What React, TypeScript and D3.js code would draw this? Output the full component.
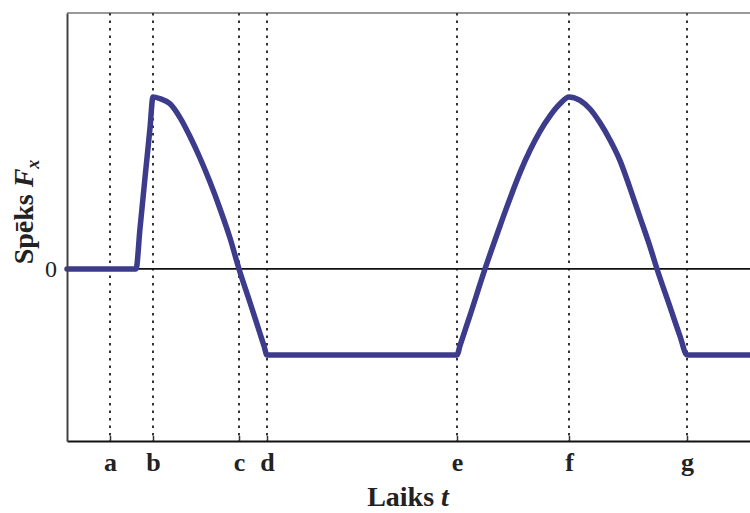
import React, { useEffect, useRef } from 'react';
import * as d3 from 'd3';

// Marker times on the time axis and their labels
const markerLabels = ['a', 'b', 'c', 'd', 'e', 'f', 'g'];
const markerTimes = [4.3, 8.6, 17.2, 20.0, 39.0, 50.2, 62.0];

// Force curve samples (time, force)
const forceTime = [0, 6.9, 7.3, 7.8, 8.3, 8.6, 9.3, 10.3, 11.3, 12.3, 13.3, 14.3, 15.3, 16.3, 17.2, 18.3, 19.3, 19.7, 20.0,
  39.0, 39.3, 40.3, 41.8, 43.3, 44.3, 45.3, 46.3, 47.3, 48.3, 49.3, 50.2, 51.3, 52.3, 53.3, 54.3, 55.3, 56.3, 57.3, 58.3, 59.0, 60.3, 61.3, 62.0, 68.3];
const forceValue = [0, 0, 0.235, 0.53, 0.82, 1.0, 0.99, 0.96, 0.88, 0.77, 0.645, 0.505, 0.35, 0.18, 0, -0.195, -0.375, -0.447, -0.5,
  -0.5, -0.446, -0.27, 0, 0.25, 0.41, 0.56, 0.69, 0.80, 0.89, 0.96, 1.0, 0.98, 0.93, 0.85, 0.75, 0.63, 0.47, 0.30, 0.13, 0, -0.22, -0.39, -0.5, -0.5];

const yTicks = [0];

const App = () => {
  const svgRef = useRef<SVGSVGElement | null>(null);

  useEffect(() => {
    const width = 750;
    const height = 513;
    const margin = { top: 13, right: 0, bottom: 72, left: 67 };
    const font = '"Liberation Serif", "Times New Roman", serif';

    const svg = d3.select(svgRef.current)
      .attr('width', width)
      .attr('height', height)
      .style('background', '#fff');

    svg.selectAll('*').remove();

    const x = d3.scaleLinear()
      .domain([0, 68.3])
      .range([margin.left, width - margin.right]);

    const y = d3.scaleLinear()
      .domain([-1, 1.488])
      .range([height - margin.bottom, margin.top]);

    // top frame line
    svg.append('line')
      .attr('x1', margin.left).attr('x2', width)
      .attr('y1', margin.top).attr('y2', margin.top)
      .attr('stroke', '#777').attr('stroke-width', 1.5);

    // dotted marker lines
    svg.append('g')
      .selectAll('line')
      .data(markerTimes)
      .join('line')
      .attr('x1', d => x(d)).attr('x2', d => x(d))
      .attr('y1', y(1.488)).attr('y2', y(-1))
      .attr('stroke', '#333')
      .attr('stroke-width', 2)
      .attr('stroke-dasharray', '2.5,5');

    // zero line
    svg.append('line')
      .attr('x1', margin.left).attr('x2', width)
      .attr('y1', y(0)).attr('y2', y(0))
      .attr('stroke', '#111').attr('stroke-width', 1.8);

    // force curve
    const pts = forceTime.map((t, i) => [t, forceValue[i]] as [number, number]);
    const line = d3.line<[number, number]>()
      .x(d => x(d[0]))
      .y(d => y(d[1]))
      .curve(d3.curveMonotoneX);

    svg.append('path')
      .datum(pts)
      .attr('d', line)
      .attr('fill', 'none')
      .attr('stroke', '#3c3b8c')
      .attr('stroke-width', 5.5)
      .attr('stroke-linejoin', 'round')
      .attr('stroke-linecap', 'round');

    // x axis
    const xAxis = svg.append('g')
      .attr('transform', `translate(0,${height - margin.bottom})`)
      .call(d3.axisBottom(x)
        .tickValues(markerTimes)
        .tickFormat((_, i) => markerLabels[i])
        .tickSizeInner(-5)
        .tickSizeOuter(0)
        .tickPadding(12));
    xAxis.select('.domain').attr('stroke', '#111').attr('stroke-width', 2);
    xAxis.selectAll('.tick line').attr('stroke', '#333').attr('stroke-width', 1.5);
    xAxis.selectAll('.tick text')
      .attr('font-family', font)
      .attr('font-size', 26)
      .attr('font-weight', 'bold')
      .attr('fill', '#222');

    // y axis
    const yAxis = svg.append('g')
      .attr('transform', `translate(${margin.left},0)`)
      .call(d3.axisLeft(y)
        .tickValues(yTicks)
        .tickFormat(d3.format('d'))
        .tickSize(0)
        .tickPadding(10));
    yAxis.select('.domain').attr('stroke', '#444').attr('stroke-width', 2);
    yAxis.selectAll('.tick text')
      .attr('font-family', font)
      .attr('font-size', 24)
      .attr('fill', '#222');

    // x axis title
    const xt = svg.append('text')
      .attr('x', 408)
      .attr('y', 506)
      .attr('text-anchor', 'middle')
      .attr('font-family', font)
      .attr('font-size', 28)
      .attr('font-weight', 'bold')
      .attr('fill', '#222');
    xt.append('tspan').text('Laiks ');
    xt.append('tspan').attr('font-style', 'italic').text('t');

    // y axis title
    const yt = svg.append('text')
      .attr('transform', `translate(33,${212}) rotate(-90)`)
      .attr('text-anchor', 'middle')
      .attr('font-family', font)
      .attr('font-size', 28)
      .attr('font-weight', 'bold')
      .attr('fill', '#222');
    yt.append('tspan').text('Spēks ');
    yt.append('tspan').attr('font-style', 'italic').text('F');
    yt.append('tspan').attr('font-style', 'italic').attr('font-size', 18).attr('dy', 6).text('x');
  }, []);

  return (
    <svg ref={svgRef} style={{ position: 'absolute', left: 0, top: 0 }}></svg>
  );
};

export default App;
